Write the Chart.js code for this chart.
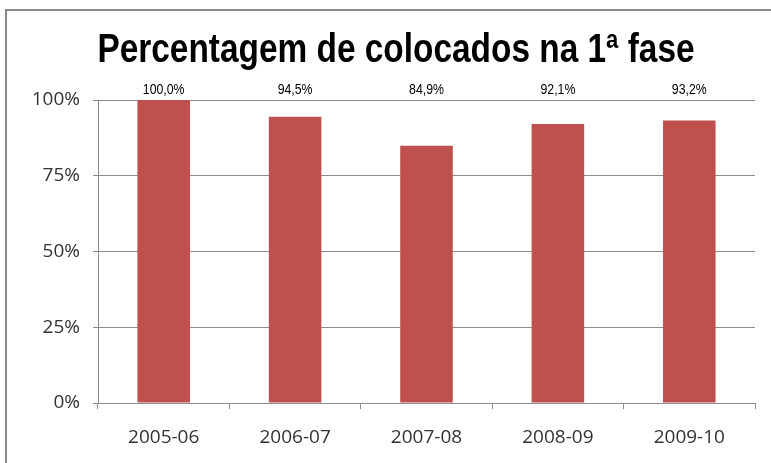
<!DOCTYPE html>
<html>
<head>
<meta charset="utf-8">
<script src="https://cdn.jsdelivr.net/npm/chart.js@4"></script>
<style>
  html, body { margin: 0; padding: 0; background: #fff; overflow: hidden; }
  #frame { position: absolute; left: 5px; top: 9px; width: 900px; height: 900px; border: 2px solid #898989; }
  #chart { position: absolute; left: 0; top: 0; }
</style>
</head>
<body>
<div id="frame"></div>
<canvas id="chart" width="771" height="463"></canvas>
<script>
// datos
const titulo = 'Percentagem de colocados na 1ª fase';
const anos = ['2005-06', '2006-07', '2007-08', '2008-09', '2009-10'];
const percentagens = [100.0, 94.5, 84.9, 92.1, 93.2];
const ticksY = [0, 25, 50, 75, 100];

const corBarra = '#C0504D';
const corGrelha = '#8c8c8c';
const fonteEstreita = '"Liberation Sans", Arial, sans-serif';

// texto "estreito" (sem fonte condensada instalada, comprime-se na horizontal)
function textoEstreito(ctx, txt, x, y, escala) {
    ctx.save();
    ctx.translate(x, y);
    ctx.scale(escala, 1);
    ctx.fillText(txt, 0, 0);
    ctx.restore();
}

// título e etiquetas por cima das barras
const textosPlugin = {
    id: 'textos',
    afterDatasetsDraw(chart) {
        const ctx = chart.ctx;
        const meta = chart.getDatasetMeta(0);
        ctx.save();
        ctx.fillStyle = '#000';
        ctx.textAlign = 'center';
        ctx.textBaseline = 'alphabetic';

        ctx.font = 'bold 40px ' + fonteEstreita;
        textoEstreito(ctx, titulo, 396, 62, 0.835);

        ctx.font = '15px ' + fonteEstreita;
        meta.data.forEach((bar, i) => {
            const txt = percentagens[i].toFixed(1).replace('.', ',') + '%';
            textoEstreito(ctx, txt, bar.x, chart.chartArea.top - 6, 0.82);
        });
        ctx.restore();
    }
};

new Chart(document.getElementById('chart').getContext('2d'), {
    type: 'bar',
    data: {
        labels: anos,
        datasets: [{
            data: percentagens,
            backgroundColor: corBarra,
            barPercentage: 0.4,
            categoryPercentage: 1
        }]
    },
    options: {
        responsive: false,
        animation: false,
        layout: { padding: { left: 18, right: 16, top: 100, bottom: 14 } },
        plugins: {
            legend: { display: false },
            tooltip: { enabled: false },
            title: { display: false }
        },
        scales: {
            x: {
                afterFit: s => { s.height = 46; },
                grid: { drawOnChartArea: false, color: corGrelha, tickLength: 6 },
                border: { color: corGrelha },
                ticks: {
                    color: '#333',
                    padding: 17,
                    font: { family: '"Open Sans", sans-serif', size: 19 }
                }
            },
            y: {
                min: 0,
                max: 100,
                afterFit: s => { s.width = 80; },
                afterBuildTicks: s => { s.ticks = ticksY.map(v => ({ value: v })); },
                grid: { color: corGrelha, tickLength: 5 },
                border: { color: corGrelha },
                ticks: {
                    color: '#333',
                    padding: 13,
                    font: { family: '"Open Sans", sans-serif', size: 19 },
                    callback: v => v + '%'
                }
            }
        }
    },
    plugins: [textosPlugin]
});
</script>
</body>
</html>
